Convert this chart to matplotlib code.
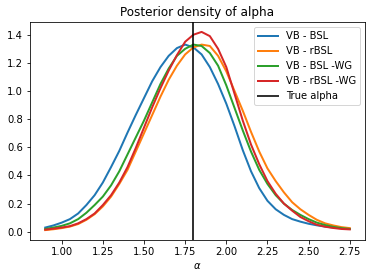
import numpy as np
import matplotlib
matplotlib.use("Agg")
import matplotlib.pyplot as plt

# valores
alpha_grid = [0.90, 0.95, 1.00, 1.05, 1.10, 1.15, 1.20, 1.25, 1.30, 1.35,
              1.40, 1.45, 1.50, 1.55, 1.60, 1.65, 1.70, 1.75, 1.80, 1.85,
              1.90, 1.95, 2.00, 2.05, 2.10, 2.15, 2.20, 2.25, 2.30, 2.35,
              2.40, 2.45, 2.50, 2.55, 2.60, 2.65, 2.70, 2.75]

vb_bsl = [0.030, 0.045, 0.065, 0.090, 0.130, 0.190, 0.260, 0.350, 0.460, 0.575,
          0.705, 0.830, 0.950, 1.070, 1.170, 1.250, 1.305, 1.330, 1.310, 1.260,
          1.170, 1.050, 0.910, 0.750, 0.580, 0.430, 0.310, 0.220, 0.160, 0.120,
          0.090, 0.072, 0.057, 0.046, 0.037, 0.030, 0.025, 0.020]

vb_rbsl = [0.012, 0.018, 0.026, 0.037, 0.055, 0.085, 0.125, 0.180, 0.250, 0.340,
           0.440, 0.570, 0.700, 0.830, 0.960, 1.080, 1.180, 1.260, 1.310, 1.330,
           1.320, 1.250, 1.140, 1.000, 0.860, 0.710, 0.570, 0.450, 0.360, 0.280,
           0.210, 0.160, 0.120, 0.085, 0.060, 0.045, 0.033, 0.026]

vb_bsl_wg = [0.020, 0.030, 0.042, 0.060, 0.090, 0.135, 0.190, 0.250, 0.330, 0.430,
             0.550, 0.670, 0.790, 0.920, 1.050, 1.160, 1.250, 1.300, 1.330, 1.320,
             1.270, 1.180, 1.040, 0.880, 0.720, 0.570, 0.440, 0.340, 0.260, 0.200,
             0.155, 0.120, 0.090, 0.065, 0.048, 0.035, 0.026, 0.020]

vb_rbsl_wg = [0.015, 0.022, 0.030, 0.040, 0.060, 0.090, 0.130, 0.190, 0.260, 0.350,
              0.460, 0.595, 0.740, 0.885, 1.020, 1.145, 1.255, 1.350, 1.400, 1.420,
              1.390, 1.300, 1.170, 0.980, 0.790, 0.620, 0.480, 0.360, 0.270, 0.200,
              0.150, 0.105, 0.075, 0.050, 0.036, 0.027, 0.020, 0.017]

true_alpha = 1.8

series = [("VB - BSL", vb_bsl), ("VB - rBSL", vb_rbsl),
          ("VB - BSL -WG", vb_bsl_wg), ("VB - rBSL -WG", vb_rbsl_wg)]

fig = plt.figure(figsize=(372 / 72, 278 / 72), dpi=72)
ax = fig.add_axes([30 / 372, 38 / 278, 335 / 372, 218 / 278])

for nombre, dens in series:
    ax.plot(alpha_grid, dens, lw=2, label=nombre)
ax.axvline(true_alpha, color="k", lw=2, alpha=0.8, label="True alpha")

ax.set_title("Posterior density of alpha")
ax.set_xlabel(r"$\alpha$")
ax.legend(loc="upper right")

fig.savefig("out.png", dpi=72)
